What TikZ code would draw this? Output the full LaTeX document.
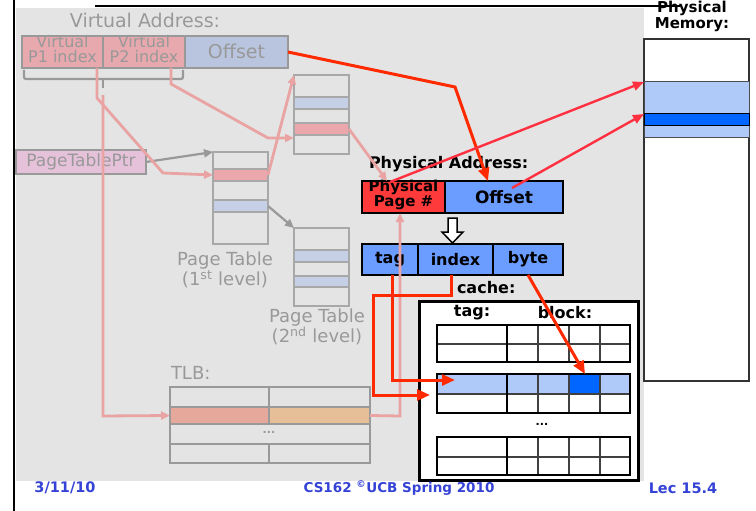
\documentclass[tikz,border=0pt]{standalone}
\usepackage{fontspec}
\setmainfont{DejaVu Sans}
\usetikzlibrary{arrows.meta,fit}
\definecolor{slidebg}{HTML}{E4E4E4}
\definecolor{fadegray}{HTML}{999999}
\definecolor{fadepink}{HTML}{E9A3A3}
\definecolor{idxpink}{HTML}{E7A9AE}
\definecolor{offblue}{HTML}{B9C5DF}
\definecolor{ptrfill}{HTML}{E6C2DA}
\definecolor{rowpink}{HTML}{EBA7AB}
\definecolor{rowblue}{HTML}{C5CFE6}
\definecolor{tlbsalmon}{HTML}{E6A89B}
\definecolor{tlbtan}{HTML}{E6BE98}
\definecolor{hotred}{HTML}{FF2A00}
\definecolor{memred}{HTML}{FF3040}
\definecolor{ppnred}{HTML}{FF3A3A}
\definecolor{pablue}{HTML}{6B9CFF}
\definecolor{lightblue}{HTML}{AFC9F9}
\definecolor{deepblue}{HTML}{0066FF}
\definecolor{footblue}{HTML}{3442D6}
\newcommand{\fsz}[1]{\fontsize{#1}{#1}\selectfont}
\begin{document}
\begin{tikzpicture}[x=1pt,y=-1pt,
  every node/.style={inner sep=0pt,outer sep=0pt},
  fadebox/.style={draw=fadegray,line width=2pt},
  ptab/.style={draw=fadegray!85,line width=1.3pt},
  fadetext/.style={text=fadegray},
  blacktext/.style={text=black,font=\fsz{16}\bfseries},
  pabox/.style={draw=black,line width=2pt,fill=pablue},
  pinkarrow/.style={draw=fadepink,line width=2.8pt,-{Triangle[length=9pt,width=8pt]}},
  grayarrow/.style={draw=fadegray,line width=2.2pt,-{Triangle[length=9pt,width=8pt]}},
  redarrow/.style={draw=hotred,line width=3pt,-{Triangle[length=13pt,width=11pt]}},
  memarrow/.style={draw=memred,line width=2.4pt,-{Triangle[length=11pt,width=9pt]}},
  footer/.style={text=footblue,font=\fsz{14.5}\bfseries}]
\useasboundingbox (0,0) rectangle (756,511);
\fill[white] (0,0) rectangle (756,511);
\fill[slidebg] (16,8) rectangle (644,481);
\draw[black,line width=2pt] (14,0) -- (14,511);
\draw[black,line width=1.3pt] (95,6) -- (680,6);

% ---------- virtual address ----------
\node[fadetext,font=\fsz{19}] (valbl) at (145,20) {Virtual Address:};
\node[fadebox,fill=idxpink,fit={(22,36)(103,68)}] (vp1) {};
\node[fadebox,fill=idxpink,fit={(103,36)(185,68)}] (vp2) {};
\node[fadebox,fill=offblue,fit={(185,36)(288,68)}] (voff) {};
\node[fadetext,font=\fontsize{16}{15}\selectfont,align=center] (vp1t) at (62.5,49) {Virtual\\P1 index};
\node[fadetext,font=\fontsize{16}{15}\selectfont,align=center] (vp2t) at (144,49) {Virtual\\P2 index};
\node[fadetext,font=\fsz{19}] (vofft) at (236.5,51) {Offset};
\draw[fadegray,line width=2.2pt,rounded corners=2pt] (24,70) -- (24,79) -- (183,79) -- (183,70);
\draw[fadegray,line width=2.2pt] (103,79) -- (103,88);
\coordinate (brtick) at (103,95);

% ---------- page table pointer ----------
\node[fadebox,fill=ptrfill,fit={(16,150)(146,174)}] (ptr) {};
\node[fadetext,font=\fsz{17}] (ptrt) at (81,162) {PageTablePtr};

% ---------- page tables ----------
\node[ptab,fit={(213,152)(268,244)}] (pt1) {};
\node[ptab,fill=rowpink,fit={(213,169)(268,181)}] (pt1pink) {};
\node[ptab,fill=rowblue,fit={(213,200)(268,212)}] (pt1blue) {};
\node[ptab,fit={(294,75)(349,154)}] (pt2a) {};
\node[ptab,fill=rowblue,fit={(294,97)(349,109)}] (pt2ablue) {};
\node[ptab,fill=rowpink,fit={(294,123)(349,135)}] (pt2apink) {};
\node[ptab,fit={(294,228)(349,306)}] (pt2b) {};
\node[ptab,fill=rowblue,fit={(294,250)(349,262)}] (pt2bblue) {};
\node[ptab,fill=rowblue,fit={(294,276)(349,287)}] (pt2bblue2) {};
\node[fadetext,font=\fontsize{18}{17}\selectfont,align=center] (pt1lbl) at (225,270) {Page Table\\(1\textsuperscript{st} level)};
\node[fadetext,font=\fontsize{18}{17}\selectfont,align=center] (pt2lbl) at (317,327) {Page Table\\(2\textsuperscript{nd} level)};

% ---------- TLB ----------
\node[fadetext,font=\fsz{18},anchor=west] (tlblbl) at (171,373) {TLB:};
\node[fill=tlbsalmon,fit={(170,407)(269,424)}] (tlbtag) {};
\node[fill=tlbtan,fit={(269,407)(370,424)}] (tlbppn) {};
\draw[fadegray,line width=2pt] (170,407) -- (370,407) (170,424) -- (370,424) (170,444) -- (370,444)
  (269,387) -- (269,424) (269,444) -- (269,463);
\node[fadebox,fit={(170,387)(370,463)}] (tlb) {};
\node[fadetext,font=\fsz{11}\bfseries] (tlbdots) at (269,432) {...};

% ---------- physical memory ----------
\node[font=\fontsize{15}{16}\selectfont\bfseries,align=center] (memlbl) at (692,16) {Physical\\Memory:};
\node[draw=black!80,line width=1.2pt,fill=white,fit={(644,39)(749,381)}] (mem) {};
\node[draw=black!70,line width=1pt,fill=lightblue,fit={(644,82)(749,138)}] (mempage) {};
\node[draw=black,line width=1pt,fill=deepblue,fit={(644,114)(749,126)}] (memword) {};

% ---------- physical address ----------
\node[blacktext,anchor=west] (palbl) at (369,164) {Physical Address:};
\node[draw=black,line width=2pt,fill=ppnred,fit={(362,181)(445,213)}] (ppn) {};
\node[pabox,fit={(445,181)(563,213)}] (poff) {};
\node[font=\fontsize{15}{15}\selectfont\bfseries,align=center] (ppnt) at (403.5,195) {Physical\\Page \#};
\node[blacktext,font=\fsz{17}\bfseries] (pofft) at (504,197) {Offset};
\draw[black,line width=1.5pt,fill=white] (448,218) -- (457,218) -- (457,232) -- (463,232) -- (452.5,243)
  -- (442,232) -- (448,232) -- cycle;
\node[pabox,fit={(362,244)(418,275)}] (ctag) {};
\node[pabox,fit={(418,244)(493,275)}] (cidx) {};
\node[pabox,fit={(493,244)(563,275)}] (cbyte) {};
\node[blacktext] (ctagt) at (390,259.5) {tag};
\node[blacktext] (cidxt) at (455.5,259.5) {index};
\node[blacktext] (cbytet) at (528,259.5) {byte};

% ---------- cache ----------
\node[blacktext,anchor=west] (cachelbl) at (457,288) {cache:};
\node[draw=black,line width=3pt,fill=white,fit={(419,301)(638,480)}] (cache) {};
\node[blacktext] (taghdr) at (472,313) {tag:};
\node[blacktext] (blkhdr) at (565,313) {block:};
\node[fill=lightblue,fit={(437,374)(630,394)}] (crow) {};
\node[fill=deepblue,fit={(569,374)(600,394)}] (cword) {};
\foreach \t/\m/\b in {325/344/362,374/394/413,437/457/475}{
  \draw[black!75,line width=1.2pt] (437,\m) -- (630,\m) (538,\t) -- (538,\b) (569,\t) -- (569,\b) (600,\t) -- (600,\b);
  \draw[black,line width=2pt] (507,\t) -- (507,\b);
  \draw[black,line width=2.5pt] (437,\t) rectangle (630,\b);
}
\node[font=\fsz{11}\bfseries] (cdots) at (542,424) {...};

% ---------- translation path (faded) ----------
\draw[grayarrow] (ptr.east) -- (pt1.north west);
\draw[grayarrow] (pt1blue.east) -- (pt2b.north west);
\draw[pinkarrow] (vp1.south -| 97,0) -- (97,98) -- (163,173) -- (pt1pink.west);
\draw[pinkarrow] (vp2.south -| 171,0) -- (171,84) -- (268,138) -- (pt2a.west |- 0,138);
\draw[pinkarrow] (pt1pink.east) -- (pt2a.north west);
\draw[pinkarrow] (pt2apink.east) -- ([xshift=25pt]ppn.north west);
\draw[pinkarrow] (brtick) -- (103,416) -- (tlbtag.west);
\draw[pinkarrow] (tlbppn.east) -- (400,416) -- (ppn.south -| 400,0);

% ---------- access path ----------
\coordinate (ppnout) at (390,182);
\coordinate (poffout) at (512,188);
\coordinate (offbend) at (455,87);
\coordinate (tagin) at (455,380);
\coordinate (idxin) at (430,395);
\draw[redarrow] (voff.east) -- (offbend) -- ([xshift=43pt]poff.north west);
\draw[memarrow] (ppnout) -- (mempage.north west);
\draw[memarrow] (poffout) -- (memword.north west);
\draw[redarrow] (ctag.south -| 392,0) -- (392,380) -- (tagin);
\draw[redarrow] (cidx.south -| 451,0) -- (451,295) -- (373,295) -- (373,395) -- (idxin);
\draw[redarrow] (cbyte.south -| 528,0) -- (cword.north -| 585,0);

% ---------- footer ----------
\node[footer] (fdate) at (65,488) {3/11/10};
\node[footer,font=\fsz{13.5}\bfseries] (fcourse) at (399,488) {CS162 \textsuperscript{©}UCB Spring 2010};
\node[footer] (flec) at (683,488) {Lec 15.4};
\end{tikzpicture}
\end{document}
